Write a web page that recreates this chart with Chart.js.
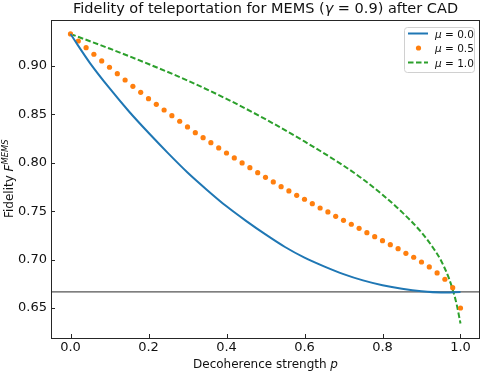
<!DOCTYPE html>
<html>
<head>
<meta charset="utf-8">
<script src="https://cdn.jsdelivr.net/npm/chart.js@4.4.1/dist/chart.umd.min.js"></script>
<style>
  html, body { margin: 0; padding: 0; background: #fff; }
  #wrap { width: 484px; height: 376px; position: relative; }
</style>
</head>
<body>
<div id="wrap"><canvas id="grafico" width="484" height="376"></canvas></div>
<script>
'use strict';

// --- dati ---
const pLine = [0, 0.05, 0.1, 0.15, 0.2, 0.25, 0.3, 0.35, 0.4, 0.45, 0.5, 0.55, 0.6, 0.65, 0.7, 0.75, 0.8, 0.85, 0.9, 0.95, 1.0];
const fidMu0 = [0.933, 0.903, 0.877, 0.853, 0.831, 0.810, 0.790, 0.772, 0.755, 0.740, 0.726, 0.713, 0.702, 0.693, 0.685, 0.6785, 0.6735, 0.6698, 0.6672, 0.6660, 0.6666];

const pDots = [0, 0.02, 0.04, 0.06, 0.08, 0.1, 0.12, 0.14, 0.16, 0.18, 0.2, 0.22, 0.24, 0.26, 0.28, 0.3, 0.32, 0.34, 0.36, 0.38, 0.4, 0.42, 0.44, 0.46, 0.48, 0.5, 0.52, 0.54, 0.56, 0.58, 0.6, 0.62, 0.64, 0.66, 0.68, 0.7, 0.72, 0.74, 0.76, 0.78, 0.8, 0.82, 0.84, 0.86, 0.88, 0.9, 0.92, 0.94, 0.96, 0.98, 1.0];
const fidMu05 = [0.9331, 0.9258, 0.9189, 0.9121, 0.9052, 0.8987, 0.8920, 0.8855, 0.8790, 0.8728, 0.8662, 0.8604, 0.8545, 0.8487, 0.8429, 0.8370, 0.8311, 0.8259, 0.8208, 0.8153, 0.8101, 0.8050, 0.7998, 0.7949, 0.7898, 0.7850, 0.7802, 0.7753, 0.7709, 0.7664, 0.7623, 0.7578, 0.7533, 0.7492, 0.7447, 0.7406, 0.7365, 0.7323, 0.7278, 0.7237, 0.7195, 0.7154, 0.7113, 0.7065, 0.7024, 0.6975, 0.6924, 0.6862, 0.6797, 0.6710, 0.6500];

const pDash = [0, 0.1, 0.2, 0.3, 0.4, 0.5, 0.6, 0.7, 0.75, 0.8, 0.85, 0.9, 0.93, 0.95, 0.97, 0.98, 0.99, 1.0];
const fidMu1 = [0.933, 0.918, 0.902, 0.885, 0.866, 0.845, 0.822, 0.797, 0.783, 0.767, 0.749, 0.728, 0.712, 0.699, 0.681, 0.669, 0.654, 0.634];

const classicalLimit = 2 / 3;
const xTicks = [0, 0.2, 0.4, 0.6, 0.8, 1.0];
const yTicks = [0.65, 0.70, 0.75, 0.80, 0.85, 0.90];
const seriesLabels = ['0.0', '0.5', '1.0'];

const FONT = "'DejaVu Sans', sans-serif";
const C_BLUE = '#1f77b4', C_ORANGE = '#ff7f0e', C_GREEN = '#2ca02c';

function pts(xs, ys) { return xs.map((x, i) => ({ x: x, y: ys[i] })); }

// testo con pezzi in corsivo / apice
function drawRich(ctx, parts, x, y, size, align) {
  let total = 0;
  const widths = parts.map(p => {
    const s = p.sup ? size * 0.7 : size;
    ctx.font = (p.it ? 'italic ' : '') + s + 'px ' + FONT;
    const w = ctx.measureText(p.t).width;
    total += w;
    return w;
  });
  let cx = align === 'center' ? x - total / 2 : x;
  parts.forEach((p, i) => {
    const s = p.sup ? size * 0.7 : size;
    ctx.font = (p.it ? 'italic ' : '') + s + 'px ' + FONT;
    ctx.fillText(p.t, cx, p.sup ? y - size * 0.42 : y);
    cx += widths[i];
  });
}

const decorPlugin = {
  id: 'decor',
  afterDraw(chart) {
    const ctx = chart.ctx;
    const a = chart.chartArea;
    const xs = chart.scales.x, ys = chart.scales.y;
    ctx.save();

    // cornice
    ctx.strokeStyle = '#262626';
    ctx.lineWidth = 1;
    ctx.strokeRect(Math.round(a.left) + 0.5, Math.round(a.top) + 0.5, Math.round(a.right - a.left) - 1, Math.round(a.bottom - a.top) - 1);

    // tacche verso l'interno
    ctx.beginPath();
    xTicks.forEach(v => {
      const px = Math.round(xs.getPixelForValue(v)) + 0.5;
      ctx.moveTo(px, a.bottom); ctx.lineTo(px, a.bottom - 4);
    });
    yTicks.forEach(v => {
      const py = Math.round(ys.getPixelForValue(v)) + 0.5;
      ctx.moveTo(a.left, py); ctx.lineTo(a.left + 4, py);
    });
    ctx.stroke();

    ctx.fillStyle = '#111';
    ctx.textBaseline = 'alphabetic';
    // titolo
    drawRich(ctx, [
      { t: 'Fidelity of teleportation for MEMS (' },
      { t: 'γ', it: true },
      { t: ' = 0.9) after CAD' }
    ], (a.left + a.right) / 2, 13, 14.5, 'center');

    // etichetta asse x
    drawRich(ctx, [
      { t: 'Decoherence strength ' },
      { t: 'p', it: true }
    ], (a.left + a.right) / 2, 368, 12, 'center');

    // etichetta asse y
    ctx.save();
    ctx.translate(13, (a.top + a.bottom) / 2);
    ctx.rotate(-Math.PI / 2);
    drawRich(ctx, [
      { t: 'Fidelity ' },
      { t: 'F', it: true },
      { t: 'MEMS', it: true, sup: true }
    ], 0, 0, 12, 'center');
    ctx.restore();

    // legenda
    const lx = 404.5, ly = 27.5, lw = 70, lh = 45;
    ctx.beginPath();
    ctx.roundRect(lx, ly, lw, lh, 3);
    ctx.fillStyle = 'rgba(255,255,255,0.8)';
    ctx.fill();
    ctx.strokeStyle = '#d0d0d0';
    ctx.stroke();
    const rows = [33.5, 48, 62.5];
    chart.data.datasets.slice(0, 3).forEach((ds, i) => {
      const ry = rows[i];
      ctx.save();
      if (i === 1) {
        ctx.fillStyle = ds.backgroundColor;
        ctx.beginPath();
        ctx.arc(418.5, ry, 2.6, 0, Math.PI * 2);
        ctx.fill();
      } else {
        ctx.strokeStyle = ds.borderColor;
        ctx.lineWidth = ds.borderWidth;
        ctx.setLineDash(ds.borderDash || []);
        ctx.beginPath();
        ctx.moveTo(408, ry); ctx.lineTo(428, ry);
        ctx.stroke();
      }
      ctx.restore();
      ctx.fillStyle = '#111';
      drawRich(ctx, [{ t: 'μ', it: true }, { t: ' = ' + seriesLabels[i] }], 435, ry + 4, 10.5, 'left');
    });

    ctx.restore();
  }
};

new Chart(document.getElementById('grafico').getContext('2d'), {
  type: 'scatter',
  data: {
    datasets: [
      {
        label: 'mu = 0.0',
        data: pts(pLine, fidMu0),
        showLine: true,
        borderColor: C_BLUE,
        borderWidth: 2,
        pointRadius: 0,
        cubicInterpolationMode: 'monotone'
      },
      {
        label: 'mu = 0.5',
        data: pts(pDots, fidMu05),
        showLine: false,
        backgroundColor: C_ORANGE,
        borderWidth: 0,
        pointRadius: 2.6
      },
      {
        label: 'mu = 1.0',
        data: pts(pDash, fidMu1),
        showLine: true,
        borderColor: C_GREEN,
        borderWidth: 2,
        borderDash: [5.5, 2.5],
        pointRadius: 0,
        cubicInterpolationMode: 'monotone'
      },
      {
        label: 'limit',
        data: pts([-0.05, 1.05], [classicalLimit, classicalLimit]),
        showLine: true,
        borderColor: '#555',
        borderWidth: 1.2,
        pointRadius: 0
      }
    ]
  },
  options: {
    responsive: false,
    animation: false,
    events: [],
    layout: { padding: { top: 19.5, right: 4, left: 0, bottom: 0 } },
    plugins: {
      legend: { display: false },
      title: { display: false },
      tooltip: { enabled: false }
    },
    scales: {
      x: {
        type: 'linear',
        min: -0.05, max: 1.05,
        grid: { display: false, drawTicks: false },
        border: { display: false },
        afterBuildTicks: s => { s.ticks = xTicks.map(v => ({ value: v })); },
        afterFit: s => { s.height = 38; },
        ticks: { color: '#111', font: { family: FONT, size: 13 }, padding: 2, maxRotation: 0, callback: v => v.toFixed(1) }
      },
      y: {
        type: 'linear',
        min: 0.619, max: 0.948,
        grid: { display: false, drawTicks: false },
        border: { display: false },
        afterBuildTicks: s => { s.ticks = yTicks.map(v => ({ value: v })); },
        afterFit: s => { s.width = 51; },
        ticks: { color: '#111', font: { family: FONT, size: 13 }, padding: 4, callback: v => v.toFixed(2) }
      }
    }
  },
  plugins: [decorPlugin]
});
</script>
</body>
</html>
